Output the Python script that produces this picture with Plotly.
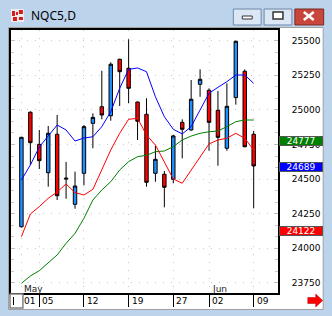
import plotly.graph_objects as go

# ---------------- data ----------------
dates = ["2025-05-01", "2025-05-02", "2025-05-05", "2025-05-06", "2025-05-07", "2025-05-08",
         "2025-05-09", "2025-05-12", "2025-05-13", "2025-05-14", "2025-05-15", "2025-05-16",
         "2025-05-19", "2025-05-20", "2025-05-21", "2025-05-22", "2025-05-23", "2025-05-27",
         "2025-05-28", "2025-05-29", "2025-05-30", "2025-06-02", "2025-06-03", "2025-06-04",
         "2025-06-05", "2025-06-06", "2025-06-09"]
opens = [24156, 24983, 24751, 24546, 24824, 24500, 24318, 24542, 24903, 25023, 24958, 25366,
         25301, 25057, 24968, 24542, 24535, 24499, 24910, 24855, 25185, 25142, 24997, 24723,
         25089, 25279, 24824]
highs = [24805, 24990, 24855, 24884, 24963, 24624, 24554, 24891, 24975, 25283, 25344, 25370,
         25510, 25060, 25084, 24739, 24559, 24819, 24932, 25216, 25293, 25156, 25137, 25192,
         25500, 25293, 24848]
lows = [24150, 24602, 24573, 24445, 24349, 24358, 24286, 24455, 24723, 24932, 24922, 25028,
        25048, 24783, 24445, 24481, 24296, 24470, 24650, 24850, 25095, 24705, 24597, 24705,
        25038, 24730, 24289]
closes = [24802, 24763, 24633, 24831, 24380, 24506, 24450, 24879, 24946, 24963, 25330, 25276,
          25156, 24918, 24477, 24643, 24441, 24812, 24860, 25077, 25221, 24910, 24802, 25026,
          25496, 24734, 24595]
ma_blue = [24494, 24602, 24732, 24811, 24891, 24855, 24775, 24797, 24806, 24879, 24987, 25156,
           25293, 25303, 25276, 25095, 24951, 24860, 24826, 24879, 24999, 25120, 25163, 25204,
           25252, 25252, 25192]
ma_red = [24084, 24248, 24301, 24361, 24407, 24465, 24402, 24385, 24426, 24566, 24710, 24831,
          24932, 24939, 24819, 24746, 24626, 24501, 24470, 24566, 24667, 24754, 24783, 24795,
          24831, 24795, 24710]
ma_green = [23747, 23800, 23838, 23892, 23952, 24036, 24108, 24217, 24349, 24421, 24481, 24566,
            24626, 24662, 24672, 24698, 24703, 24734, 24783, 24811, 24831, 24842, 24848, 24879,
            24915, 24927, 24927]

price_ticks = [23750, 24000, 24250, 24500, 24750, 25000, 25250, 25500]
date_tick_idx = [0, 2, 7, 12, 17, 21, 26]
date_tick_text = ["01", "05", "12", "19", "27", "02", "09"]
month_idx = [0, 21]
month_text = ["May", "Jun"]
label_texts = ["24777", "24689", "24122"]
label_levels = [24777, 24588, 24127]
label_colors = ["#008000", "#0000ff", "#ff0000"]
title_text = "NQC5,D"

# ---------------- geometry helpers (pixel -> paper) ----------------
W, H = 332, 316
L, R, T, B = 9, 278, 30, 293


def px(x):
    return (x - L) / (R - L)


def py(y):
    return (B - y) / (B - T)


xs = list(range(len(dates)))

fig = go.Figure()

fig.add_trace(go.Candlestick(
    x=xs, open=opens, high=highs, low=lows, close=closes,
    increasing=dict(fillcolor="#1e90ff", line=dict(color="black", width=1)),
    decreasing=dict(fillcolor="#ff0000", line=dict(color="black", width=1)),
    whiskerwidth=0, hoverinfo="skip", showlegend=False))

for vals, col in [(ma_green, "#008000"), (ma_red, "#ff0000"), (ma_blue, "#0000ff")]:
    fig.add_trace(go.Scatter(x=xs, y=vals, mode="lines", line=dict(color=col, width=1),
                             hoverinfo="skip", showlegend=False))

shapes = []
# white window panel
shapes.append(dict(type="rect", xref="paper", yref="paper", x0=px(6.5), x1=px(323.5),
                   y0=py(309.5), y1=py(27.5), fillcolor="white",
                   line=dict(color="#a0a0a0", width=1), layer="below"))
# small box bottom-left
shapes.append(dict(type="rect", xref="paper", yref="paper", x0=px(8), x1=px(21),
                   y0=py(308), y1=py(294), fillcolor="white",
                   line=dict(color="#808080", width=1.5), layer="above"))
shapes.append(dict(type="line", xref="paper", yref="paper", x0=px(11.5), x1=px(11.5),
                   y0=py(305), y1=py(297), line=dict(color="black", width=1), layer="above"))
# title bar icon
shapes.append(dict(type="rect", xref="paper", yref="paper", x0=px(9), x1=px(22),
                   y0=py(22), y1=py(9), fillcolor="#eeeeee", line=dict(width=0)))
for (a, b, c, d) in [(10, 13, 11, 16), (14, 16, 12, 15), (17, 21, 10, 14), (11, 15, 17, 21),
                     (17, 21, 17, 20)]:
    shapes.append(dict(type="rect", xref="paper", yref="paper", x0=px(a), x1=px(b),
                       y0=py(d), y1=py(c), fillcolor="#d41c1c", line=dict(width=0)))
# window buttons
for (a, b, fill, edge) in [(233, 261, "#dce7f5", "#6f86a6"), (264, 292, "#dce7f5", "#6f86a6"),
                           (295, 324, "#c9463d", "#7a2a24")]:
    shapes.append(dict(type="rect", xref="paper", yref="paper", x0=px(a), x1=px(b),
                       y0=py(25), y1=py(9), fillcolor=fill, line=dict(color=edge, width=1)))
shapes.append(dict(type="rect", xref="paper", yref="paper", x0=px(242), x1=px(252),
                   y0=py(19), y1=py(16), fillcolor="white", line=dict(color="#333333", width=1)))
shapes.append(dict(type="rect", xref="paper", yref="paper", x0=px(273), x1=px(283),
                   y0=py(19), y1=py(12), fillcolor="white", line=dict(color="#333333", width=1.5)))
shapes.append(dict(type="line", xref="paper", yref="paper", x0=px(304), x1=px(314),
                   y0=py(12), y1=py(20), line=dict(color="white", width=2.5)))
shapes.append(dict(type="line", xref="paper", yref="paper", x0=px(304), x1=px(314),
                   y0=py(20), y1=py(12), line=dict(color="white", width=2.5)))
# red arrow bottom right
arrow = [(308, 297.5), (316, 297.5), (316, 294), (323, 300.5), (316, 307), (316, 303.5), (308, 303.5)]
path = "M " + " L ".join(f"{px(a):.5f},{py(b):.5f}" for a, b in arrow) + " Z"
shapes.append(dict(type="path", xref="paper", yref="paper", path=path,
                   fillcolor="#ff0000", line=dict(color="#b00000", width=0.5)))

annotations = []
annotations.append(dict(text=title_text, xref="paper", yref="paper", x=px(27), y=py(16),
                        xanchor="left", yanchor="middle", showarrow=False,
                        font=dict(family="Noto Sans", size=12, color="black")))
for i, t in zip(date_tick_idx, date_tick_text):
    annotations.append(dict(text=t, xref="x", yref="paper", x=i, y=py(301), xanchor="left",
                            yanchor="middle", xshift=1, showarrow=False,
                            font=dict(family="DejaVu Sans", size=9, color="black")))
for i, t in zip(month_idx, month_text):
    annotations.append(dict(text=t, xref="x", yref="paper", x=i, y=py(288.5), xanchor="left",
                            yanchor="middle", xshift=1, showarrow=False,
                            font=dict(family="DejaVu Sans", size=9, color="#222222")))
for t, lv, c in zip(label_texts, label_levels, label_colors):
    annotations.append(dict(text=t, xref="paper", yref="y", x=px(279), y=lv, xanchor="left",
                            yanchor="middle", showarrow=False, width=42, height=8,
                            bgcolor=c, bordercolor="#555555", borderwidth=1, borderpad=0,
                            font=dict(family="DejaVu Sans", size=9, color="white")))

fig.update_layout(
    width=W, height=H,
    margin=dict(l=L, r=W - R, t=T, b=H - B, pad=0),
    paper_bgcolor="#bcd3ec", plot_bgcolor="white",
    boxgap=0.45,
    showlegend=False,
    shapes=shapes, annotations=annotations,
    hovermode=False,
    xaxis=dict(range=[-10.5 / 9, -10.5 / 9 + (R - L) / 9], tickvals=date_tick_idx,
               showticklabels=False, ticks="outside", ticklen=12, tickcolor="black", tickwidth=1,
               showgrid=True, gridcolor="#c8c8c8", gridwidth=1, griddash="1px,7px",
               showline=True, linecolor="black", linewidth=2, mirror=True,
               zeroline=False, rangeslider=dict(visible=False), fixedrange=True),
    yaxis=dict(range=[23677.1, 25577.3], side="right", tickvals=price_ticks,
               ticktext=[str(v) for v in price_ticks],
               ticks="inside", ticklen=4, tickcolor="#c0c0c0", ticklabelstandoff=10,
               minor=dict(tick0=23750, dtick=250 / 3, ticks="inside", ticklen=3,
                          tickcolor="#c8c8c8", showgrid=False),
               tickfont=dict(family="DejaVu Sans", size=9, color="black"),
               showgrid=True, gridcolor="#c8c8c8", gridwidth=1, griddash="1px,7px",
               showline=True, linecolor="black", linewidth=2, mirror="ticks",
               zeroline=False, fixedrange=True),
)

fig.write_html("out.html")
